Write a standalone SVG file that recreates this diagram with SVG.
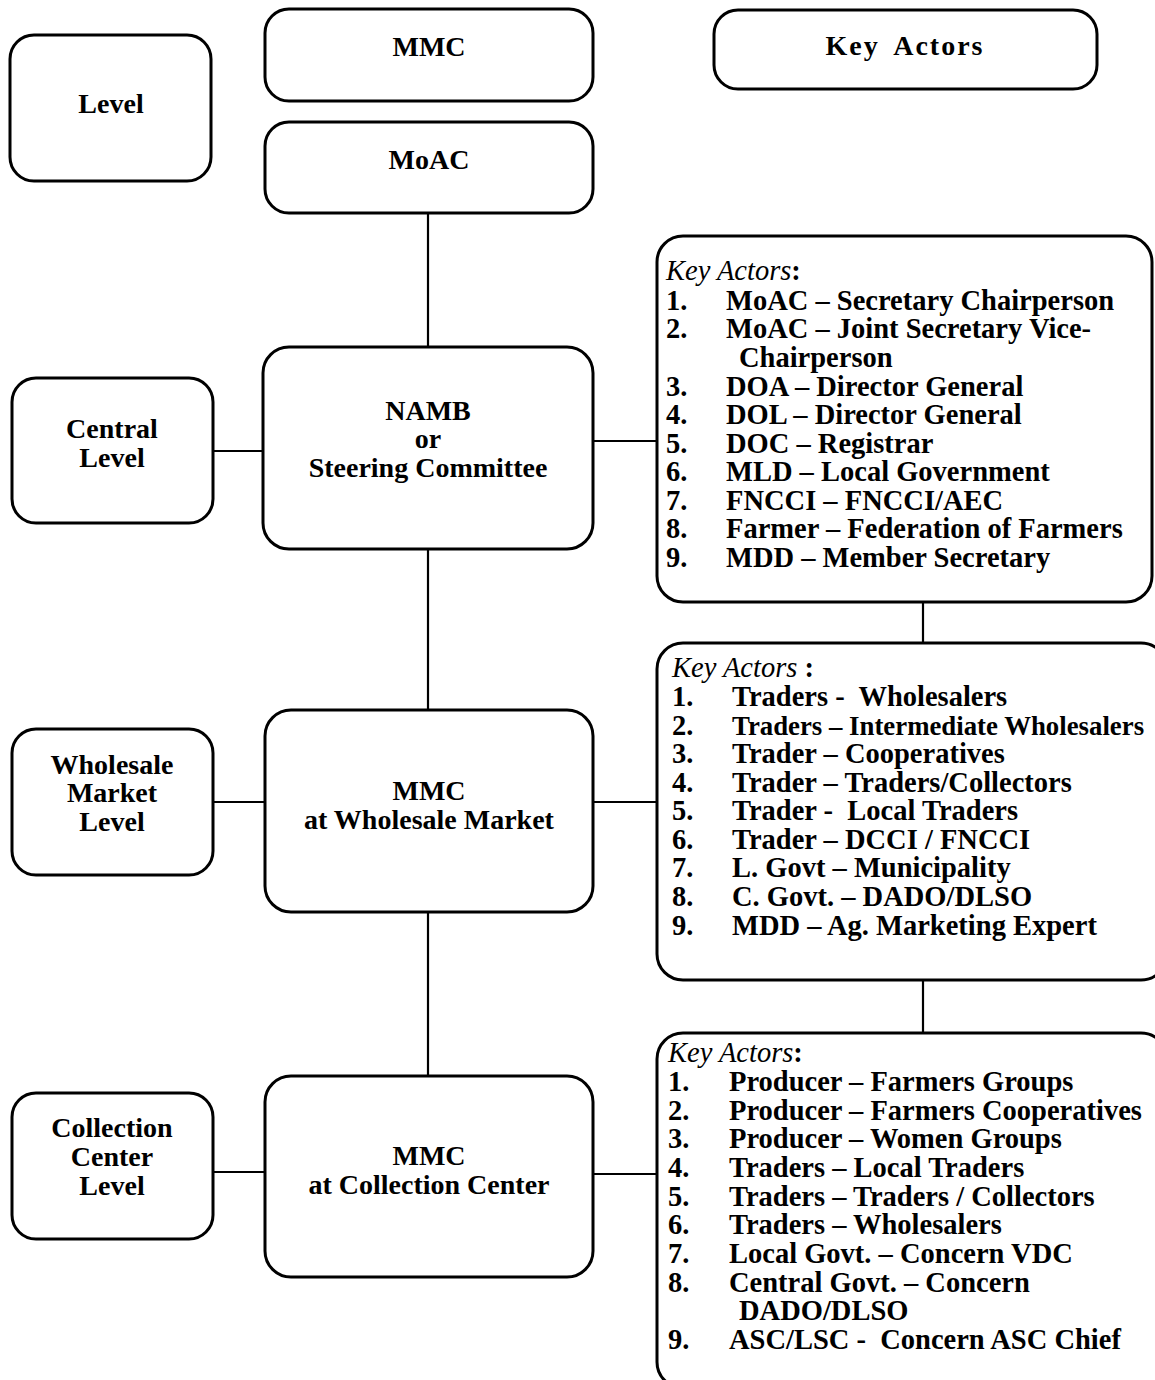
<svg xmlns="http://www.w3.org/2000/svg" width="1155" height="1380" viewBox="0 0 1155 1380">
<style>
.box{fill:#fff;stroke:#000;stroke-width:3}
.ln{stroke:#000;stroke-width:2.2;fill:none}
text{font-family:"Liberation Serif","Times New Roman",serif;font-weight:bold;fill:#000}
.c{font-size:28px;text-anchor:middle}
.l{font-size:28.5px}
.it{font-style:italic;font-weight:normal}
</style>
<rect width="1155" height="1380" fill="#fff"/>
<g id="connectors">
<line class="ln" x1="428" y1="213" x2="428" y2="347"/>
<line class="ln" x1="428" y1="549" x2="428" y2="710"/>
<line class="ln" x1="428" y1="912" x2="428" y2="1076"/>
<line class="ln" x1="213" y1="451" x2="263" y2="451"/>
<line class="ln" x1="213" y1="802" x2="265" y2="802"/>
<line class="ln" x1="213" y1="1172" x2="265" y2="1172"/>
<line class="ln" x1="593" y1="441" x2="657" y2="441"/>
<line class="ln" x1="593" y1="802" x2="657" y2="802"/>
<line class="ln" x1="593" y1="1174" x2="657" y2="1174"/>
<line class="ln" x1="923" y1="602" x2="923" y2="643"/>
<line class="ln" x1="923" y1="980" x2="923" y2="1033"/>
</g>
<g id="level-header">
<rect class="box" x="10" y="35" width="201" height="146" rx="24"/>
<text class="c" x="111" y="113">Level</text>
</g>
<g id="mmc-header">
<rect class="box" x="265" y="9" width="328" height="92" rx="24"/>
<text class="c" x="429" y="56">MMC</text>
</g>
<g id="key-actors-header">
<rect class="box" x="714" y="10" width="383" height="79" rx="24"/>
<text class="c" x="905" y="55" style="letter-spacing:2px;word-spacing:6px">Key Actors</text>
</g>
<g id="moac">
<rect class="box" x="265" y="122" width="328" height="91" rx="24"/>
<text class="c" x="429" y="169">MoAC</text>
</g>
<g id="central-level">
<rect class="box" x="12" y="378" width="201" height="145" rx="24"/>
<text class="c" x="112" y="438">Central</text>
<text class="c" x="112" y="467">Level</text>
</g>
<g id="namb">
<rect class="box" x="263" y="347" width="330" height="202" rx="26"/>
<text class="c" x="428" y="420">NAMB</text>
<text class="c" x="428" y="448">or</text>
<text class="c" x="428" y="477">Steering Committee</text>
</g>
<g id="wholesale-level">
<rect class="box" x="12" y="729" width="201" height="146" rx="24"/>
<text class="c" x="112" y="774">Wholesale</text>
<text class="c" x="112" y="802">Market</text>
<text class="c" x="112" y="831">Level</text>
</g>
<g id="mmc-wholesale">
<rect class="box" x="265" y="710" width="328" height="202" rx="26"/>
<text class="c" x="429" y="800">MMC</text>
<text class="c" x="429" y="829">at Wholesale Market</text>
</g>
<g id="collection-level">
<rect class="box" x="12" y="1093" width="201" height="146" rx="24"/>
<text class="c" x="112" y="1137">Collection</text>
<text class="c" x="112" y="1166">Center</text>
<text class="c" x="112" y="1195">Level</text>
</g>
<g id="mmc-collection">
<rect class="box" x="265" y="1076" width="328" height="201" rx="26"/>
<text class="c" x="429" y="1165">MMC</text>
<text class="c" x="429" y="1194">at Collection Center</text>
</g>
<g id="actors-central">
<rect class="box" x="657" y="236" width="495" height="366" rx="26"/>
<text class="l" x="666" y="280"><tspan class="it">Key Actors</tspan>:</text>
<text class="l" x="666" y="310">1.</text><text class="l" x="726" y="310">MoAC – Secretary Chairperson</text>
<text class="l" x="666" y="338">2.</text><text class="l" x="726" y="338">MoAC – Joint Secretary Vice-</text>
<text class="l" x="739" y="367">Chairperson</text>
<text class="l" x="666" y="396">3.</text><text class="l" x="726" y="396">DOA – Director General</text>
<text class="l" x="666" y="424">4.</text><text class="l" x="726" y="424">DOL – Director General</text>
<text class="l" x="666" y="453">5.</text><text class="l" x="726" y="453">DOC – Registrar</text>
<text class="l" x="666" y="481">6.</text><text class="l" x="726" y="481">MLD – Local Government</text>
<text class="l" x="666" y="510">7.</text><text class="l" x="726" y="510">FNCCI – FNCCI/AEC</text>
<text class="l" x="666" y="538">8.</text><text class="l" x="726" y="538">Farmer – Federation of Farmers</text>
<text class="l" x="666" y="567">9.</text><text class="l" x="726" y="567">MDD – Member Secretary</text>
</g>
<g id="actors-wholesale">
<rect class="box" x="657" y="643" width="510" height="337" rx="26"/>
<text class="l" x="672" y="677"><tspan class="it">Key Actors</tspan> :</text>
<text class="l" x="672" y="706">1.</text><text class="l" x="732" y="706" xml:space="preserve">Traders -  Wholesalers</text>
<text class="l" x="672" y="735">2.</text><text x="732" y="735" style="font-size:26.8px">Traders – Intermediate Wholesalers</text>
<text class="l" x="672" y="763">3.</text><text class="l" x="732" y="763">Trader – Cooperatives</text>
<text class="l" x="672" y="792">4.</text><text class="l" x="732" y="792">Trader – Traders/Collectors</text>
<text class="l" x="672" y="820">5.</text><text class="l" x="732" y="820" xml:space="preserve">Trader -  Local Traders</text>
<text class="l" x="672" y="849">6.</text><text class="l" x="732" y="849">Trader – DCCI / FNCCI</text>
<text class="l" x="672" y="877">7.</text><text class="l" x="732" y="877">L. Govt – Municipality</text>
<text class="l" x="672" y="906">8.</text><text class="l" x="732" y="906">C. Govt. – DADO/DLSO</text>
<text class="l" x="672" y="935">9.</text><text class="l" x="732" y="935">MDD – Ag. Marketing Expert</text>
</g>
<g id="actors-collection">
<rect class="box" x="657" y="1033" width="510" height="355" rx="26"/>
<text class="l" x="668" y="1062"><tspan class="it">Key Actors</tspan>:</text>
<text class="l" x="668" y="1091">1.</text><text class="l" x="729" y="1091">Producer – Farmers Groups</text>
<text class="l" x="668" y="1120">2.</text><text class="l" x="729" y="1120">Producer – Farmers Cooperatives</text>
<text class="l" x="668" y="1148">3.</text><text class="l" x="729" y="1148">Producer – Women Groups</text>
<text class="l" x="668" y="1177">4.</text><text class="l" x="729" y="1177">Traders – Local Traders</text>
<text class="l" x="668" y="1206">5.</text><text class="l" x="729" y="1206">Traders – Traders / Collectors</text>
<text class="l" x="668" y="1234">6.</text><text class="l" x="729" y="1234">Traders – Wholesalers</text>
<text class="l" x="668" y="1263">7.</text><text class="l" x="729" y="1263">Local Govt. – Concern VDC</text>
<text class="l" x="668" y="1292">8.</text><text class="l" x="729" y="1292">Central Govt. – Concern</text>
<text class="l" x="739" y="1320">DADO/DLSO</text>
<text class="l" x="668" y="1349">9.</text><text class="l" x="729" y="1349" xml:space="preserve">ASC/LSC -  Concern ASC Chief</text>
</g>
</svg>
